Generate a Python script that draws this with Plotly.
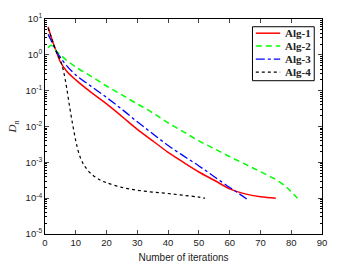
import plotly.graph_objects as go

# (log10 of D_n)
x_alg1 = [1, 2, 3, 4, 5, 7, 10, 15, 20, 25, 30, 35, 40, 45, 50, 55, 60, 65, 70, 75]
lg_alg1 = [0.78, 0.5, 0.25, 0.02, -0.2, -0.45, -0.7, -1.05, -1.37, -1.72, -2.08, -2.4, -2.72, -3.0, -3.27, -3.5, -3.74, -3.88, -3.96, -4.0]

x_alg2 = [1, 2, 3, 4, 5, 7, 10, 15, 20, 25, 30, 35, 40, 45, 50, 55, 60, 65, 70, 75, 78, 80, 82]
lg_alg2 = [0.2, 0.27, 0.18, 0.08, 0.0, -0.15, -0.34, -0.6, -0.87, -1.12, -1.37, -1.62, -1.9, -2.15, -2.4, -2.62, -2.84, -3.05, -3.26, -3.48, -3.66, -3.82, -4.0]

x_alg3 = [1, 2, 3, 4, 5, 7, 10, 15, 20, 25, 30, 35, 40, 45, 50, 55, 60, 63, 66]
lg_alg3 = [0.57, 0.4, 0.22, 0.05, -0.07, -0.3, -0.56, -0.88, -1.19, -1.52, -1.87, -2.2, -2.53, -2.82, -3.1, -3.4, -3.7, -3.87, -4.05]

x_alg4 = [1, 2, 3, 4, 5, 6, 7, 8, 9, 10, 11, 12, 13, 15, 18, 20, 25, 30, 35, 40, 45, 50, 52]
lg_alg4 = [0.75, 0.5, 0.25, 0.02, -0.15, -0.45, -0.9, -1.45, -1.95, -2.4, -2.75, -2.97, -3.12, -3.32, -3.5, -3.57, -3.7, -3.78, -3.83, -3.87, -3.92, -3.97, -4.0]

names = ["Alg-1", "Alg-2", "Alg-3", "Alg-4"]
y_exponents = [1, 0, -1, -2, -3, -4, -5]
x_ticks = [0, 10, 20, 30, 40, 50, 60, 70, 80, 90]

styles = [
    dict(color="#ff0000", width=1.5, dash="solid"),
    dict(color="#00ff00", width=1.5, dash="6px,4px"),
    dict(color="#0000ff", width=1.3, dash="dashdot"),
    dict(color="#000000", width=1.2, dash="dot"),
]

def to_val(lg):
    return [10 ** v for v in lg]

fig = go.Figure()
for xs, lg, nm, st in zip([x_alg1, x_alg2, x_alg3, x_alg4],
                          [lg_alg1, lg_alg2, lg_alg3, lg_alg4], names, styles):
    fig.add_trace(go.Scatter(x=xs, y=to_val(lg), mode="lines", name=nm,
                             line=dict(shape="spline", **st), showlegend=False))

# Legend box drawn in paper coordinates (compact, like the reference)
fig.add_shape(type="rect", xref="paper", yref="paper", x0=0.749, x1=0.972, y0=0.713, y1=0.964,
              line=dict(color="black", width=1), fillcolor="white", layer="above")
row_y = [0.934, 0.874, 0.813, 0.753]
for nm, st, ry in zip(names, styles, row_y):
    fig.add_shape(type="line", xref="paper", yref="paper", x0=0.761, x1=0.849, y0=ry, y1=ry,
                  line=dict(color=st["color"], width=st["width"], dash=st["dash"]), layer="above")
    fig.add_annotation(xref="paper", yref="paper", x=0.858, y=ry, xanchor="left", yanchor="middle",
                       text="<b>%s</b>" % nm, showarrow=False,
                       font=dict(family="Liberation Serif, Times New Roman", size=11, color="#222"))

minor_vals = [m * 10 ** e for e in range(-5, 1) for m in range(2, 10)]

fig.update_layout(
    width=339, height=273,
    margin=dict(l=44, r=12, t=17, b=33),
    paper_bgcolor="white", plot_bgcolor="white",
    font=dict(family="Liberation Sans, Arial", size=9.5, color="#222"),
    showlegend=False,
)
fig.update_xaxes(range=[0, 90], tickvals=x_ticks, ticks="inside", ticklen=4,
                 showline=True, linecolor="black", linewidth=1, mirror="ticks",
                 showgrid=False, zeroline=False,
                 title=dict(text="Number of iterations", font=dict(size=10), standoff=6))
fig.update_yaxes(type="log", range=[-5, 1],
                 tickvals=[10 ** e for e in y_exponents],
                 ticktext=["10<sup>%d</sup>" % e for e in y_exponents],
                 ticks="inside", ticklen=4,
                 minor=dict(tickmode="array", tickvals=minor_vals, ticks="inside", ticklen=2, tickcolor="black", showgrid=False),
                 showline=True, linecolor="black", linewidth=1, mirror="ticks",
                 showgrid=False, zeroline=False,
                 title=dict(text="<i>D</i><sub><i>n</i></sub>", font=dict(family="Liberation Serif", size=11), standoff=6))

fig.write_html("out.html", config={"displayModeBar": False},
               post_script="document.body.style.margin='0';")
